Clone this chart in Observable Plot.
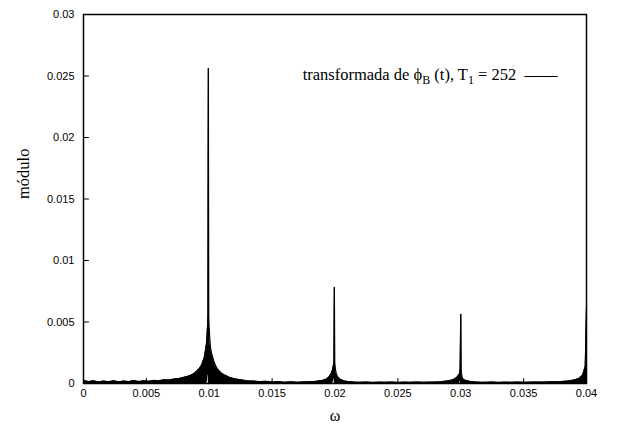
<!DOCTYPE html>
<html>
<head>
<meta charset="utf-8">
<script src="https://cdn.jsdelivr.net/npm/d3@7"></script>
<script src="https://cdn.jsdelivr.net/npm/@observablehq/plot@0.6"></script>
<style>
  html, body { margin: 0; padding: 0; background: white; }
</style>
</head>
<body>
<div id="chart"></div>
<script>
// Spectrum sampled values (ω, upper envelope of the dense band, lower envelope)
const omega = [
  0.0000, 0.0004, 0.0008, 0.0012, 0.0016, 0.0020, 0.0024, 0.0028, 0.0032, 0.0036,
  0.0040, 0.0044, 0.0048, 0.0052, 0.0056, 0.0060, 0.0064, 0.0068, 0.0072, 0.0076,
  0.0080, 0.0083, 0.0086, 0.0089, 0.0092, 0.0094, 0.0096, 0.0097, 0.0098, 0.00984,
  0.00988, 0.00990, 0.00993, 0.00996, 0.00998, 0.01002, 0.01007, 0.0101, 0.0102, 0.0104,
  0.0106, 0.0109, 0.0112, 0.0116, 0.0120, 0.0125, 0.0130, 0.0135, 0.0140, 0.0145,
  0.0150, 0.0155, 0.0160, 0.0165, 0.0170, 0.0175, 0.0180, 0.0185, 0.0190, 0.0193,
  0.0195, 0.0197, 0.0198, 0.01986, 0.01992, 0.01995, 0.01998, 0.02001, 0.02004, 0.0201,
  0.0202, 0.0204, 0.0207, 0.0210, 0.0215, 0.0220, 0.0225, 0.0230, 0.0235, 0.0240,
  0.0245, 0.0250, 0.0255, 0.0260, 0.0265, 0.0270, 0.0275, 0.0280, 0.0285, 0.0290,
  0.0294, 0.0297, 0.0299, 0.02995, 0.03000, 0.03003, 0.03006, 0.03011, 0.0302, 0.0304,
  0.0307, 0.0311, 0.0315, 0.0320, 0.0325, 0.0330, 0.0335, 0.0340, 0.0345, 0.0350,
  0.0355, 0.0360, 0.0365, 0.0370, 0.0375, 0.0380, 0.0385, 0.0390, 0.0394, 0.0397,
  0.0399, 0.0400
];
const upper = [
  0.00025, 0.00015, 0.00022, 0.00012, 0.00020, 0.00014, 0.00022, 0.00013, 0.00020, 0.00015,
  0.00024, 0.00016, 0.00022, 0.00018, 0.00025, 0.00022, 0.00030, 0.00028, 0.00036, 0.00040,
  0.00050, 0.00058, 0.00070, 0.00090, 0.00120, 0.00150, 0.00210, 0.00270, 0.00340, 0.00420,
  0.00500, 0.00550, 0.02560, 0.00550, 0.00480, 0.00400, 0.00330, 0.00290, 0.00240, 0.00170,
  0.00125, 0.00090, 0.00070, 0.00050, 0.00038, 0.00030, 0.00022, 0.00020, 0.00015, 0.00018,
  0.00012, 0.00015, 0.00010, 0.00014, 0.00010, 0.00013, 0.00014, 0.00018, 0.00025, 0.00035,
  0.00050, 0.00080, 0.00110, 0.00140, 0.00170, 0.00780, 0.00170, 0.00140, 0.00110, 0.00080,
  0.00055, 0.00035, 0.00022, 0.00016, 0.00012, 0.00010, 0.00012, 0.00009, 0.00011, 0.00010,
  0.00012, 0.00009, 0.00011, 0.00010, 0.00012, 0.00010, 0.00011, 0.00012, 0.00015, 0.00022,
  0.00030, 0.00050, 0.00080, 0.00120, 0.00560, 0.00120, 0.00080, 0.00050, 0.00035, 0.00025,
  0.00018, 0.00013, 0.00011, 0.00010, 0.00012, 0.00009, 0.00011, 0.00010, 0.00012, 0.00010,
  0.00011, 0.00012, 0.00011, 0.00013, 0.00014, 0.00016, 0.00020, 0.00028, 0.00040, 0.00070,
  0.00140, 0.00620
];
const lower = [
  0, 0, 0, 0, 0, 0, 0, 0, 0, 0,
  0, 0, 0, 0, 0, 0, 0, 0, 0, 0,
  0, 0, 0, 0, 0, 0, 0, 0, 0, 0.00010,
  0.00040, 0.00060, 0.00070, 0.00060, 0.00040, 0.00015, 0, 0, 0, 0,
  0, 0, 0, 0, 0, 0, 0, 0, 0, 0,
  0, 0, 0, 0, 0, 0, 0, 0, 0, 0,
  0, 0, 0, 0.00010, 0.00030, 0.00040, 0.00030, 0.00010, 0, 0,
  0, 0, 0, 0, 0, 0, 0, 0, 0, 0,
  0, 0, 0, 0, 0, 0, 0, 0, 0, 0,
  0, 0, 0, 0.00010, 0.00030, 0.00010, 0, 0, 0, 0,
  0, 0, 0, 0, 0, 0, 0, 0, 0, 0,
  0, 0, 0, 0, 0, 0, 0, 0, 0, 0,
  0, 0
];

// Spike positions and heights
const spikeOmega = [0.00993, 0.01995, 0.03000];
const spikeTop   = [0.02560, 0.00780, 0.00560];

// Axis ticks and labels
const xTicks = [0, 0.005, 0.01, 0.015, 0.02, 0.025, 0.03, 0.035, 0.04];
const xTickLabels = ["0", "0.005", "0.01", "0.015", "0.02", "0.025", "0.03", "0.035", "0.04"];
const yTicks = [0, 0.005, 0.01, 0.015, 0.02, 0.025, 0.03];
const yTickLabels = ["0", "0.005", "0.01", "0.015", "0.02", "0.025", "0.03"];

const xLabel = "ω";
const yLabel = "módulo";
const legendParts = [
  {t: "transformada de ϕ", sub: false},
  {t: "B", sub: true},
  {t: " (t), T", sub: false},
  {t: "1", sub: true},
  {t: " = 252\u00A0\u00A0——", sub: false}
];

const data = omega.map((w, i) => ({w, hi: upper[i], lo: lower[i]}));
const spikes = spikeOmega.map((w, i) => ({w, top: spikeTop[i]}));

const tickShape = {draw(context, l) { context.moveTo(0, 0); context.lineTo(0, -l); }};
const serif = "'Liberation Serif', 'Times New Roman', serif";

const chart = Plot.plot({
  width: 617,
  height: 429,
  marginLeft: 83,
  marginRight: 31,
  marginTop: 14,
  marginBottom: 46,
  style: {fontFamily: "'Liberation Sans', Arial, sans-serif", fontSize: "11px", background: "white", color: "black"},
  x: {domain: [0, 0.04]},
  y: {domain: [0, 0.03]},
  marks: [
    Plot.areaY(data, {x: "w", y1: "lo", y2: "hi", fill: "black", curve: "linear"}),
    Plot.line(data, {x: "w", y: "hi", stroke: "black", strokeWidth: 1.2}),
    Plot.ruleX(spikes, {x: "w", y1: 0, y2: "top", stroke: "black", strokeWidth: 1.2}),
    Plot.vector(xTicks, {x: d => d, y: 0, length: 5, rotate: 0, anchor: "start", shape: tickShape, stroke: "black", strokeWidth: 1}),
    Plot.vector(yTicks, {x: 0, y: d => d, length: 5, rotate: 90, anchor: "start", shape: tickShape, stroke: "black", strokeWidth: 1}),
    Plot.axisX({ticks: xTicks, tickSize: 0, tickPadding: 6, label: null, tickFormat: d => xTickLabels[xTicks.indexOf(d)]}),
    Plot.axisY({ticks: yTicks, tickSize: 0, tickPadding: 9, label: null, tickFormat: d => yTickLabels[yTicks.indexOf(d)]}),
    Plot.frame({stroke: "black", strokeWidth: 1.5}),
    Plot.text([xLabel], {text: d => d, frameAnchor: "bottom", dy: 32, lineAnchor: "middle", fontFamily: serif, fontSize: 16}),
    Plot.text([yLabel], {text: d => d, frameAnchor: "left", dx: -60, rotate: -90, lineAnchor: "middle", fontFamily: serif, fontSize: 16.5}),
    Plot.text([legendParts.map(p => p.t).join("")], {text: d => d, frameAnchor: "top-right", dx: -29, dy: 65, textAnchor: "end", lineAnchor: "bottom", fontFamily: serif, fontSize: 16.5})
  ]
});

// Rebuild the legend text with real subscripts
d3.select(chart).selectAll("text").each(function() {
  const el = d3.select(this);
  if (el.text().startsWith("transformada")) {
    el.text(null);
    let shifted = false;
    legendParts.forEach(p => {
      const ts = el.append("tspan").text(p.t);
      if (p.sub && !shifted) { ts.attr("dy", 4).attr("font-size", 12); shifted = true; }
      else if (p.sub && shifted) { ts.attr("font-size", 12); }
      else if (!p.sub && shifted) { ts.attr("dy", -4); shifted = false; }
    });
  }
});

document.getElementById("chart").append(chart);
</script>
</body>
</html>
